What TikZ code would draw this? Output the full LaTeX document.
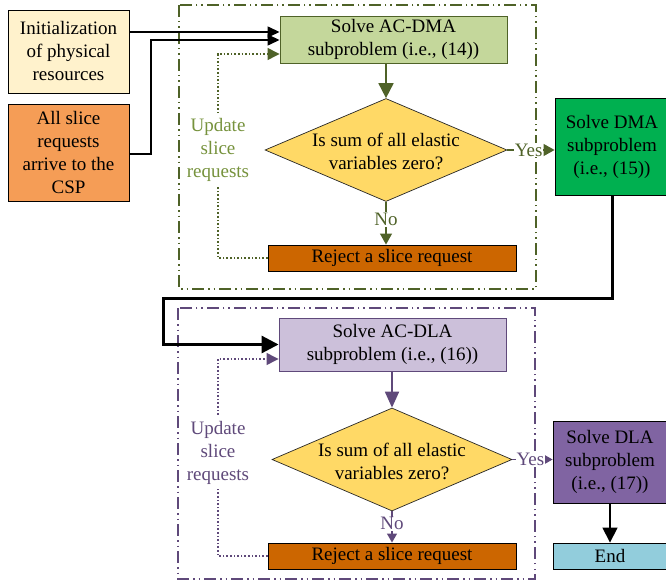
\documentclass[tikz,border=0pt]{standalone}
\usepackage{fontspec}
\setmainfont{Liberation Serif}
\usetikzlibrary{arrows.meta,shapes.geometric}
\definecolor{initY}{HTML}{FFF2CC}
\definecolor{reqO}{HTML}{F59D56}
\definecolor{acG}{HTML}{C4D79B}
\definecolor{darkG}{HTML}{4F6228}
\definecolor{lightGT}{HTML}{76923C}
\definecolor{diaY}{HTML}{FFD966}
\definecolor{dmaG}{HTML}{00B050}
\definecolor{rejO}{HTML}{CC6600}
\definecolor{acP}{HTML}{CCC0DA}
\definecolor{darkP}{HTML}{5F497A}
\definecolor{dlaP}{HTML}{8064A2}
\definecolor{endB}{HTML}{92CDDC}
\tikzset{
  box/.style={draw, line width=0.9bp, inner sep=0pt, align=center},
  dia/.style={diamond, draw=black!85, line width=0.7bp, fill=diaY, inner sep=0pt},
  frameG/.style={draw=darkG, line width=1.1bp, dash pattern=on 12bp off 4bp on 1.5bp off 4bp on 1.5bp off 4bp},
  frameP/.style={draw=darkP, line width=1.1bp, dash pattern=on 12bp off 4bp on 1.5bp off 4bp on 1.5bp off 4bp},
  inArrow/.style={draw=black, line width=1.4bp, -{Triangle[length=12bp,width=11bp]}},
  thickArrow/.style={draw=black, line width=3bp, -{Triangle[length=17bp,width=17bp]}},
  blkArrow/.style={draw=black, line width=1.6bp, -{Triangle[length=15bp,width=15bp]}},
  gArrow/.style={draw=darkG, line width=1.8bp, -{Triangle[length=15bp,width=15bp]}},
  gArrowS/.style={draw=darkG, line width=1.2bp, -{Triangle[length=11bp,width=12bp]}},
  pArrow/.style={draw=darkP, line width=1.8bp, -{Triangle[length=16bp,width=14bp]}},
  pArrowS/.style={draw=darkP, line width=1.2bp, -{Triangle[length=9bp,width=10bp]}},
  fbG/.style={draw=darkG, line width=1.3bp, dash pattern=on 1.6bp off 2bp, -{Triangle[length=12bp,width=12bp]}},
  fbP/.style={draw=darkP, line width=1.3bp, dash pattern=on 1.6bp off 2bp, -{Triangle[length=12bp,width=12bp]}},
  lbl/.style={fill=white, inner sep=1bp},
}
\begin{document}
\begin{tikzpicture}[x=1bp, y=-1bp, font=\fontsize{19bp}{23bp}\selectfont]
\useasboundingbox (0,0) rectangle (666,582);

% frames
\draw[frameG] (179,5) rectangle (536,289);
\draw[frameP] (178,308) rectangle (535,579);

% upper part
\node[box, fill=initY, minimum width=121bp, minimum height=83bp] (init) at (68.5,51.5)
  {Initialization\\of physical\\resources};
\node[box, fill=reqO, minimum width=121bp, minimum height=97bp] (allreq) at (68.5,152.5)
  {All slice\\requests\\arrive to the\\CSP};
\node[box, draw=darkG, fill=acG, minimum width=227bp, minimum height=47bp] (acdma) at (393.5,39.5)
  {Solve AC-DMA\\subproblem (i.e., (14))};
\node[dia, minimum width=242bp, minimum height=103bp] (d1) at (386,150) {};
\node[align=center] (d1t) at (386,151) {Is sum of all elastic\\variables zero?};
\node[box, fill=dmaG, minimum width=114bp, minimum height=97bp] (dma) at (612,146.5)
  {Solve DMA\\subproblem\\(i.e., (15))};
\node[box, fill=rejO, minimum width=248bp, minimum height=26bp] (rej1) at (392,258)
  {Reject a slice request};

% lower part
\node[box, draw=darkP, fill=acP, minimum width=227bp, minimum height=53bp] (acdla) at (392.5,344.5)
  {Solve AC-DLA\\subproblem (i.e., (16))};
\node[dia, minimum width=240bp, minimum height=103bp] (d2) at (392,459.5) {};
\node[align=center] (d2t) at (392,461) {Is sum of all elastic\\variables zero?};
\node[box, fill=dlaP, minimum width=114bp, minimum height=82bp] (dla) at (610,462)
  {Solve DLA\\subproblem\\(i.e., (17))};
\node[box, fill=rejO, minimum width=248bp, minimum height=26bp] (rej2) at (392,556)
  {Reject a slice request};
\node[box, fill=endB, minimum width=114bp, minimum height=26bp] (end) at (610,556) {End};

% input connectors
\draw[inArrow] (init.east |- 0,32) -- (acdma.west |- 0,32);
\draw[inArrow] (allreq.east |- 0,154) -| (151,40) -- (acdma.west |- 0,40);

% upper flow
\draw[gArrow] (acdma.south -| d1.north) -- (d1.north);
\draw[gArrowS] (d1.east) -- (d1.east -| dma.west) node[lbl, text=darkG, pos=0.45] {Yes};
\draw[gArrowS] (d1.south) -- (rej1.north -| d1.south) node[lbl, text=darkG, pos=0.42] {No};
\draw[fbG] (rej1.west) -| (218,54) -- (acdma.west |- 0,54);
\node[lbl, text=lightGT, align=center, inner sep=4bp] (upd1) at (218,150) {Update\\slice\\requests};

% transition
\draw[thickArrow] (dma.south) |- (163,298) |- (acdla.west);

% lower flow
\draw[pArrow] (acdla.south -| d2.north) -- (d2.north);
\draw[pArrowS] (d2.east) -- (d2.east -| dla.west) node[lbl, text=darkP, pos=0.45] {Yes};
\draw[pArrowS] (d2.south) -- (rej2.north -| d2.south) node[lbl, text=darkP, pos=0.4] {No};
\draw[fbP] (rej2.west) -| (218,359) -- (acdla.west |- 0,359);
\node[lbl, text=darkP, align=center, inner sep=4bp] (upd2) at (218,453) {Update\\slice\\requests};
\draw[blkArrow] (dla.south) -- (end.north);
\end{tikzpicture}
\end{document}
